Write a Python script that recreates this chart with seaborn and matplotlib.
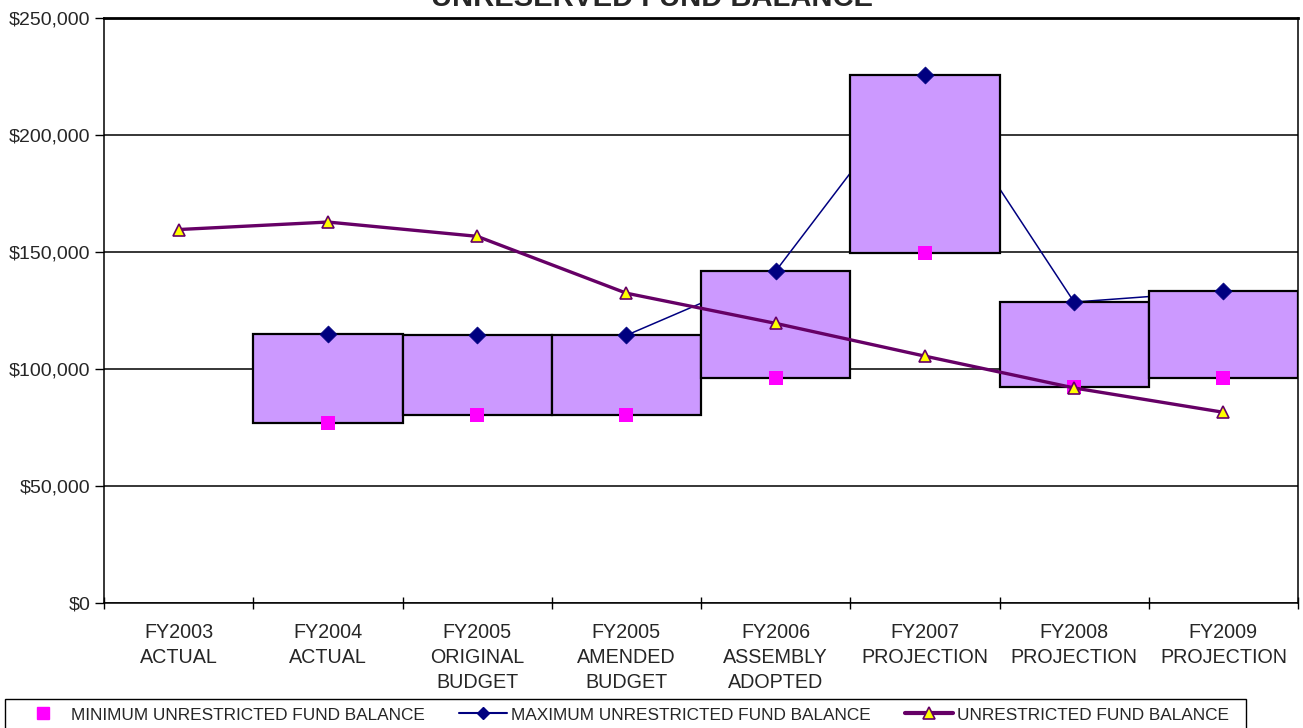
import numpy as np
import pandas as pd
import matplotlib
matplotlib.use("Agg")
import matplotlib.pyplot as plt
from matplotlib.lines import Line2D
from matplotlib.patches import Rectangle
from matplotlib.ticker import FuncFormatter
import seaborn as sns

# ---- data -------------------------------------------------------------
categories = [
    "FY2003\nACTUAL",
    "FY2004\nACTUAL",
    "FY2005\nORIGINAL\nBUDGET",
    "FY2005\nAMENDED\nBUDGET",
    "FY2006\nASSEMBLY\nADOPTED",
    "FY2007\nPROJECTION",
    "FY2008\nPROJECTION",
    "FY2009\nPROJECTION",
]
unrestricted = [159600, 162800, 156700, 132400, 119500, 105500, 91900, 81500]
minimum = [np.nan, 77000, 80300, 80300, 96000, 149600, 92200, 96000]
maximum = [np.nan, 114900, 114400, 114400, 141800, 225600, 128600, 133300]
y_ticks = [0, 50000, 100000, 150000, 200000, 250000]

series_labels = [
    "MINIMUM UNRESTRICTED FUND BALANCE",
    "MAXIMUM UNRESTRICTED FUND BALANCE",
    "UNRESTRICTED FUND BALANCE",
]

# ---- style ------------------------------------------------------------
NAVY = "#000080"
MAGENTA = "#FF00FF"
PURPLE = "#660066"
YELLOW = "#FFFF00"
BOX = "#CC99FF"

sns.set_style("white")
plt.rcParams["font.family"] = ["Liberation Sans", "DejaVu Sans"]

df = pd.DataFrame({
    "pos": np.arange(len(categories)),
    "category": categories,
    "unrestricted": unrestricted,
    "minimum": minimum,
    "maximum": maximum,
})
ranged = df.dropna(subset=["minimum", "maximum"])

fig = plt.figure(figsize=(13.03, 7.28), dpi=100)
ax = fig.add_axes([104 / 1303, 125 / 728, 1194 / 1303, 585 / 728])

# maximum line sits under the range boxes
sns.lineplot(data=ranged, x="pos", y="maximum", color=NAVY, linewidth=1.1,
             zorder=2, ax=ax, legend=False)

# floating range boxes from minimum to maximum
ax.bar(ranged["pos"], ranged["maximum"] - ranged["minimum"],
       bottom=ranged["minimum"], width=1.0, color=BOX,
       edgecolor="black", linewidth=1.6, zorder=3)

# maximum markers above the boxes
sns.scatterplot(data=ranged, x="pos", y="maximum", marker="D", s=75,
                color=NAVY, edgecolor=NAVY, linewidth=0.5, zorder=4,
                ax=ax, legend=False)

# minimum markers
sns.scatterplot(data=ranged, x="pos", y="minimum", marker="s", s=95,
                color=MAGENTA, edgecolor=MAGENTA, linewidth=0, zorder=5,
                ax=ax, legend=False)

# unrestricted balance line
sns.lineplot(data=df, x="pos", y="unrestricted", color=PURPLE,
             linewidth=2.4, marker="^", markersize=9,
             markerfacecolor=YELLOW, markeredgecolor=PURPLE,
             markeredgewidth=1.2, zorder=6, ax=ax, legend=False)

# ---- axes -------------------------------------------------------------
ax.set_xlim(-0.5, len(categories) - 0.5)
ax.set_ylim(0, 250000)
ax.set_xlabel("")
ax.set_ylabel("")

ax.set_yticks(y_ticks)
ax.yaxis.set_major_formatter(FuncFormatter(lambda v, _: f"${v:,.0f}"))
ax.yaxis.grid(True, color="black", linewidth=1.1)
ax.xaxis.grid(False)
ax.set_axisbelow(True)

ax.set_xticks(df["pos"])
ax.set_xticklabels(categories, fontsize=14.2)
for lbl in ax.get_xticklabels():
    lbl.set_linespacing(1.38)
ax.set_xticks(np.arange(-0.5, len(categories), 1.0), minor=True)
ax.tick_params(axis="x", which="major", length=0, pad=14.5, labelsize=14.2)
ax.tick_params(axis="x", which="minor", bottom=True, direction="inout",
               length=8, width=1, color="black")
ax.tick_params(axis="y", which="major", left=True, direction="out",
               length=6.5, width=1, color="black", pad=3.5, labelsize=14)

for side in ["left", "bottom", "right"]:
    ax.spines[side].set_visible(True)
    ax.spines[side].set_color("black")
    ax.spines[side].set_linewidth(1.1)
ax.spines["top"].set_visible(True)
ax.spines["top"].set_color("black")
ax.spines["top"].set_linewidth(2.0)

# ---- title ------------------------------------------------------------
fig.text(652 / 1303, 1 - 6 / 728, "UNRESERVED FUND BALANCE",
         ha="center", va="baseline", fontsize=21, fontweight="bold")

# ---- legend -----------------------------------------------------------
handles = [
    Line2D([], [], linestyle="", marker="s", markersize=9,
           markerfacecolor=MAGENTA, markeredgecolor=MAGENTA),
    Line2D([], [], color=NAVY, linewidth=1.5, marker="D", markersize=6.5,
           markerfacecolor=NAVY, markeredgecolor=NAVY),
    Line2D([], [], color=PURPLE, linewidth=3, marker="^", markersize=9,
           markerfacecolor=YELLOW, markeredgecolor=PURPLE,
           markeredgewidth=1.2),
]
fig.legend(handles, series_labels, loc="center left",
           bbox_to_anchor=(19 / 1303, 1 - 715 / 728), ncol=3,
           frameon=False, fontsize=12.45, handlelength=2.8,
           handletextpad=0.22, columnspacing=1.95, borderpad=0,
           borderaxespad=0)
fig.patches.append(Rectangle((5 / 1303, -0.02), 1241 / 1303,
                             (728 - 699) / 728 + 0.02,
                             transform=fig.transFigure, fill=False,
                             edgecolor="black", linewidth=1.0))

fig.savefig("out.png", dpi=100)
